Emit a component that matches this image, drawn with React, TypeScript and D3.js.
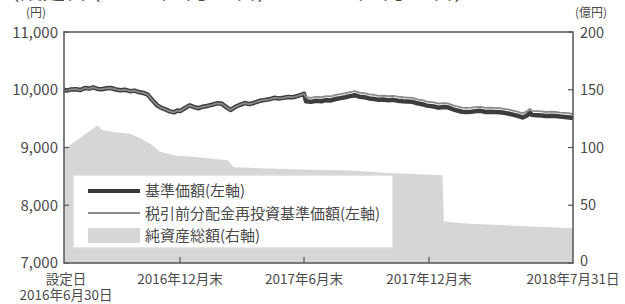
import React from "react";
import * as d3 from "d3";

const titleText = "(設定日 (2016年6月30日) ～ 2018年7月31日)";
const leftTicks = [7000, 8000, 9000, 10000, 11000];
const rightTicks = [0, 50, 100, 150, 200];
const xTickDates = ["2016-06-30", "2016-12-30", "2017-06-30", "2017-12-29", "2018-07-31"];
const xTickLabels = [["設定日", "2016年6月30日"], ["2016年12月末"], ["2017年6月末"], ["2017年12月末"], ["2018年7月31日"]];
const legendLabels = ["基準価額(左軸)", "税引前分配金再投資基準価額(左軸)", "純資産総額(右軸)"];

const navDates = [
  "2016-06-30","2016-07-05","2016-07-11","2016-07-19","2016-07-26","2016-08-02","2016-08-09","2016-08-15","2016-08-22","2016-08-29",
  "2016-09-05","2016-09-12","2016-09-20","2016-09-27","2016-10-04","2016-10-12","2016-10-19","2016-10-26","2016-11-02","2016-11-09",
  "2016-11-14","2016-11-18","2016-11-24","2016-11-30","2016-12-07","2016-12-14","2016-12-21","2016-12-26","2016-12-30","2017-01-06",
  "2017-01-13","2017-01-19","2017-01-25","2017-02-01","2017-02-08","2017-02-15","2017-02-22","2017-03-01","2017-03-08","2017-03-14",
  "2017-03-21","2017-03-28","2017-04-04","2017-04-11","2017-04-18","2017-04-25","2017-05-02","2017-05-10","2017-05-17","2017-05-24",
  "2017-05-31","2017-06-07","2017-06-14","2017-06-21","2017-06-27","2017-06-30","2017-07-03","2017-07-10","2017-07-18","2017-07-25",
  "2017-08-01","2017-08-08","2017-08-15","2017-08-22","2017-08-29","2017-09-05","2017-09-12","2017-09-19","2017-09-26","2017-10-03",
  "2017-10-10","2017-10-17","2017-10-24","2017-10-31","2017-11-07","2017-11-14","2017-11-21","2017-11-28","2017-12-05","2017-12-12",
  "2017-12-19","2017-12-26","2018-01-05","2018-01-12","2018-01-19","2018-01-26","2018-02-02","2018-02-09","2018-02-16","2018-02-23",
  "2018-03-02","2018-03-09","2018-03-16","2018-03-23","2018-03-30","2018-04-06","2018-04-13","2018-04-20","2018-04-27","2018-05-04",
  "2018-05-11","2018-05-17","2018-05-23","2018-05-28","2018-05-31","2018-06-07","2018-06-14","2018-06-21","2018-06-28","2018-07-05",
  "2018-07-12","2018-07-19","2018-07-26","2018-07-31"
];

const navValues = [
  10000,9985,10005,10010,9995,10030,10020,10040,10015,10010,
  10025,10030,10005,9990,10000,9975,9985,9960,9945,9915,
  9850,9800,9730,9690,9660,9625,9610,9640,9630,9680,
  9730,9705,9680,9705,9720,9740,9765,9760,9700,9650,
  9700,9740,9770,9750,9775,9805,9820,9835,9860,9850,
  9860,9875,9870,9895,9915,9930,9800,9790,9810,9800,
  9820,9815,9840,9855,9870,9890,9905,9880,9870,9850,
  9840,9825,9830,9820,9825,9810,9800,9795,9790,9765,
  9750,9725,9710,9690,9700,9695,9665,9640,9620,9615,
  9620,9630,9635,9615,9620,9615,9610,9600,9585,9565,
  9545,9520,9550,9600,9565,9560,9555,9545,9550,9545,
  9535,9530,9520,9510
];

const reinvValues = [
  10000,9985,10005,10010,9995,10030,10020,10040,10015,10010,
  10025,10030,10005,9990,10000,9975,9985,9960,9945,9915,
  9850,9800,9730,9690,9660,9625,9610,9640,9630,9680,
  9730,9705,9680,9705,9720,9740,9765,9760,9700,9650,
  9700,9740,9770,9750,9775,9805,9820,9835,9860,9850,
  9860,9875,9870,9895,9915,9930,9870,9860,9880,9870,
  9890,9885,9910,9925,9940,9960,9975,9950,9940,9920,
  9910,9895,9900,9890,9895,9880,9870,9865,9860,9835,
  9820,9795,9780,9760,9770,9765,9735,9710,9690,9685,
  9690,9700,9705,9685,9690,9685,9680,9670,9655,9635,
  9615,9590,9620,9670,9635,9630,9625,9615,9620,9615,
  9605,9600,9590,9580
];

const assetDates = [
  "2016-06-30","2016-07-09","2016-08-22","2016-08-30","2016-09-23","2016-10-12","2016-10-24","2016-11-14","2016-11-29","2016-12-23",
  "2017-01-18","2017-02-20","2017-03-10","2017-03-19","2017-04-27","2017-06-25","2017-09-05","2017-11-03","2018-01-18","2018-01-20",
  "2018-02-28","2018-05-14","2018-07-31"
];
const assetValues = [
  98,102,119,115,113,112,109,103,96,93,
  92,90,89,83,82,81,80,78,76,36,
  34,32,30
];

const W = 625, H = 304;
const L = 64, R = 573, T = 32, B = 263;
const FONT = "'Noto Sans CJK JP', 'Noto Sans', sans-serif";
const TXT = "#4a4a4a";

export default function App() {
  const parse = d3.timeParse("%Y-%m-%d");
  const x = d3.scaleTime()
    .domain(xTickDates.map((d) => parse(d) as Date))
    .range([64, 180, 304, 429, 573]);
  const yL = d3.scaleLinear().domain([7000, 11000]).range([B, T]);
  const yR = d3.scaleLinear().domain([0, 200]).range([B, T]);

  const nav = navDates.map((d, i) => ({ d: parse(d) as Date, v: navValues[i], r: reinvValues[i] }));
  const assets = assetDates.map((d, i) => ({ d: parse(d) as Date, v: assetValues[i] }));

  const area = d3.area<{ d: Date; v: number }>().x((p) => x(p.d)).y0(B).y1((p) => yR(p.v));
  const lineNav = d3.line<{ d: Date; v: number; r: number }>().x((p) => x(p.d)).y((p) => yL(p.v));
  const lineRe = d3.line<{ d: Date; v: number; r: number }>().x((p) => x(p.d)).y((p) => yL(p.r));

  const lg = { x: 73, y: 175, w: 320, h: 73 };

  return (
    <svg width={W} height={H} style={{ position: "absolute", left: 0, top: 0, background: "#fff" }} fontFamily={FONT}>
      <text x={12} y={-1} fontSize={15} fill={TXT} textLength={450} lengthAdjust="spacingAndGlyphs">{titleText}</text>
      <text x={36} y={17} fontSize={12} fill={TXT} textAnchor="middle">(円)</text>
      <text x={591} y={17} fontSize={12} fill={TXT} textAnchor="middle">(億円)</text>

      <path d={area(assets) || ""} fill="#d6d6d6" />

      <rect x={lg.x} y={lg.y} width={lg.w} height={lg.h} fill="#fff" stroke="#dcdcdc" strokeWidth={1.5} />
      <line x1={88} x2={140} y1={191} y2={191} stroke="#3a3a3a" strokeWidth={4} />
      <line x1={88} x2={140} y1={213} y2={213} stroke="#8c8c8c" strokeWidth={2} />
      <rect x={88} y={228} width={52} height={15} fill="#d6d6d6" />
      {legendLabels.map((t, i) => (
        <text key={t} x={145} y={191 + i * 22.5} dy="0.35em" fontSize={15} fill={TXT}>{t}</text>
      ))}

      <path d={lineNav(nav) || ""} fill="none" stroke="#3d3d3d" strokeWidth={4.5} strokeLinejoin="round" />
      <path d={lineRe(nav) || ""} fill="none" stroke="#8a8a8a" strokeWidth={1.8} strokeLinejoin="round" />

      <rect x={L} y={T} width={R - L} height={B - T} fill="none" stroke="#555" strokeWidth={1.5} />

      {leftTicks.map((t) => (
        <g key={"l" + t}>
          <line x1={L} x2={L + 5} y1={yL(t)} y2={yL(t)} stroke="#555" strokeWidth={1.2} />
          <text x={58} y={yL(t) + (t === 11000 ? 1 : 0)} dy="0.35em" textAnchor="end" fontSize={15} fill={TXT}>{d3.format(",")(t)}</text>
        </g>
      ))}
      {rightTicks.map((t) => (
        <g key={"r" + t}>
          <line x1={R - 5} x2={R} y1={yR(t)} y2={yR(t)} stroke="#555" strokeWidth={1.2} />
          <text x={580} y={yR(t) - (t === 0 ? 2 : 0) + (t === 200 ? 1 : 0)} dy="0.35em" textAnchor="start" fontSize={14.5} fill={TXT}>{t}</text>
        </g>
      ))}
      {xTickDates.map((d, i) => (
        <g key={"x" + d}>
          {i > 0 && i < xTickDates.length - 1 && (
            <line x1={x(parse(d) as Date)} x2={x(parse(d) as Date)} y1={B} y2={B - 6} stroke="#555" strokeWidth={1.2} />
          )}
          {xTickLabels[i].map((s, j) => (
            <text key={s} x={x(parse(d) as Date) + (i === 0 ? 2 : 0)} y={284 + j * 16} textAnchor="middle" fontSize={13.5} fill={TXT}>{s}</text>
          ))}
        </g>
      ))}
    </svg>
  );
}
